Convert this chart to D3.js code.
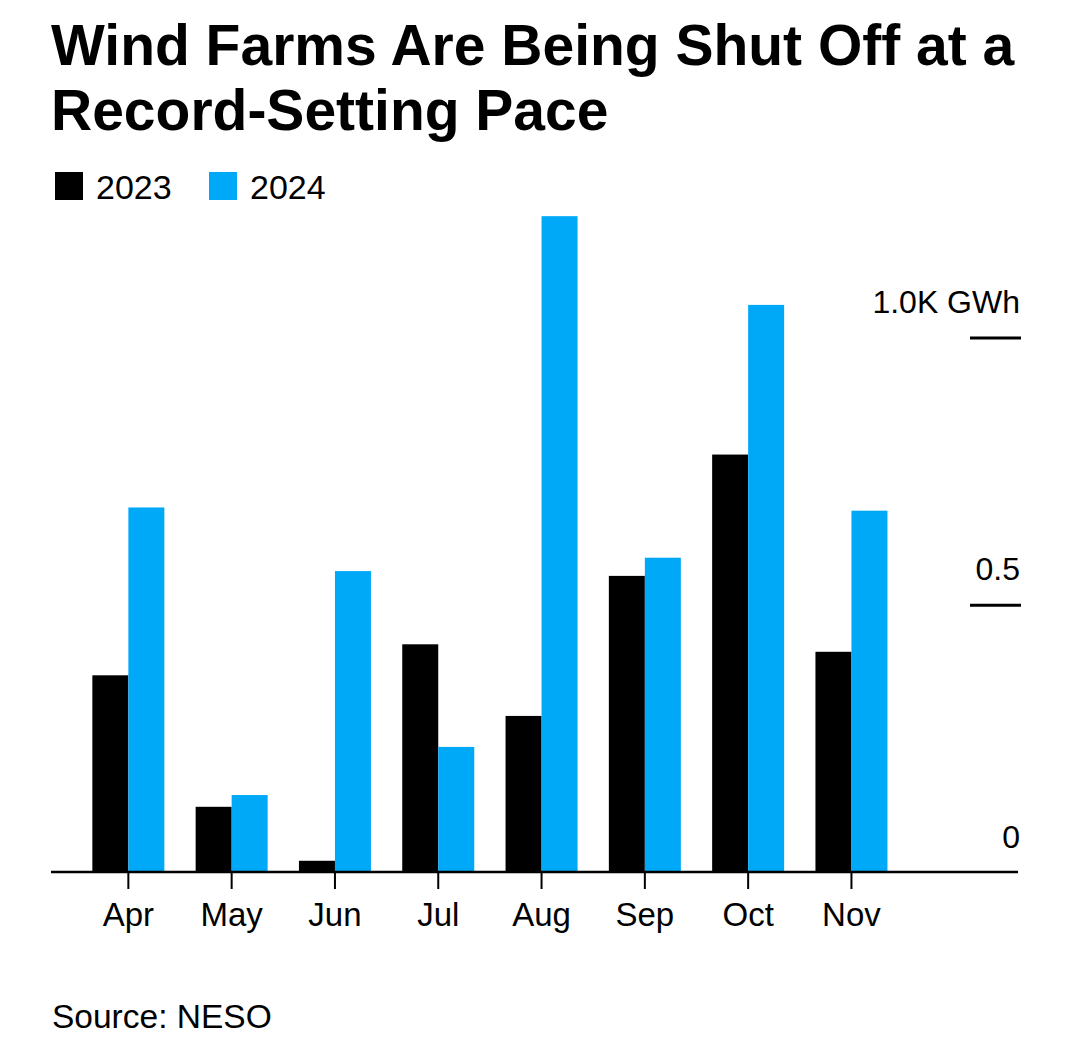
<!DOCTYPE html>
<html>
<head>
<meta charset="utf-8">
<script src="https://cdn.jsdelivr.net/npm/d3@7"></script>
<style>
  html, body { margin: 0; padding: 0; background: #fff; }
  svg { display: block; }
  text { font-family: "Liberation Sans", Arial, sans-serif; fill: #000; }
</style>
</head>
<body>
<svg id="chart" width="1080" height="1038"></svg>
<script>
const months = ["Apr", "May", "Jun", "Jul", "Aug", "Sep", "Oct", "Nov"];
const seriesNames = ["2023", "2024"];
const values2023 = [0.368, 0.122, 0.021, 0.426, 0.292, 0.554, 0.781, 0.412];
const values2024 = [0.682, 0.144, 0.563, 0.234, 1.227, 0.588, 1.061, 0.676];
const yTicks = [0, 0.5, 1.0];
const yTickLabels = ["0", "0.5", "1.0K GWh"];
const colors = ["#000000", "#00a9f7"];
const titleLines = ["Wind Farms Are Being Shut Off at a", "Record-Setting Pace"];
const sourceText = "Source: NESO";

const svg = d3.select("#chart");

// Title
svg.append("g").selectAll("text").data(titleLines).join("text")
  .attr("x", 51)
  .attr("y", (d, i) => 65 + i * 65)
  .attr("font-size", 57)
  .attr("font-weight", 700)
  .text(d => d);

// Legend
const legend = svg.append("g");
const legendX = [55, 209];
seriesNames.forEach((name, i) => {
  legend.append("rect")
    .attr("x", legendX[i]).attr("y", 172)
    .attr("width", 28).attr("height", 28)
    .attr("fill", colors[i]);
  legend.append("text")
    .attr("x", legendX[i] + 41).attr("y", 199)
    .attr("font-size", 34)
    .text(name);
});

// Scales
const x = d3.scaleBand().domain(months).range([76.7, 903.1]).paddingInner(0.303).paddingOuter(0.1515);
const xSub = d3.scaleBand().domain(seriesNames).range([0, x.bandwidth()]);
const y = d3.scaleLinear().domain([0, 1]).range([872, 337.5]);

const data = months.map((m, i) => ({ month: m, vals: [values2023[i], values2024[i]] }));

// Bars
const groups = svg.append("g").selectAll("g").data(data).join("g")
  .attr("transform", d => `translate(${x(d.month)},0)`);
groups.selectAll("rect").data(d => d.vals.map((v, i) => ({ v, s: seriesNames[i], i })))
  .join("rect")
  .attr("x", d => xSub(d.s))
  .attr("width", xSub.bandwidth())
  .attr("y", d => y(d.v))
  .attr("height", d => y(0) - y(d.v))
  .attr("fill", d => colors[d.i]);

// X axis
const xAxis = svg.append("g").attr("transform", `translate(0,${y(0)})`)
  .call(d3.axisBottom(x).tickSize(17).tickPadding(12));
xAxis.select(".domain").remove();
xAxis.append("line")
  .attr("x1", 51).attr("x2", 1018).attr("y1", 0).attr("y2", 0)
  .attr("stroke", "#000").attr("stroke-width", 2.5);
xAxis.selectAll(".tick line").attr("stroke", "#000").attr("stroke-width", 2);
xAxis.selectAll(".tick text")
  .attr("font-size", 33)
  .attr("font-family", "Liberation Sans, Arial, sans-serif")
  .attr("fill", "#000")
  .attr("dy", null)
  .attr("y", 54);

// Y axis (right side)
const yAxis = svg.append("g").attr("transform", "translate(1021,0)")
  .call(d3.axisLeft(y).tickValues(yTicks).tickSize(51)
    .tickFormat((d, i) => yTickLabels[i]));
yAxis.select(".domain").remove();
yAxis.selectAll(".tick line")
  .attr("stroke", "#000").attr("stroke-width", 3)
  .attr("opacity", d => d === 0 ? 0 : 1);
yAxis.selectAll(".tick text")
  .attr("x", -1)
  .attr("dy", null)
  .attr("y", -25)
  .attr("text-anchor", "end")
  .attr("font-size", 32)
  .attr("font-family", "Liberation Sans, Arial, sans-serif")
  .attr("fill", "#000");

// Source
svg.append("text")
  .attr("x", 52).attr("y", 1028)
  .attr("font-size", 33.5)
  .text(sourceText);
</script>
</body>
</html>
